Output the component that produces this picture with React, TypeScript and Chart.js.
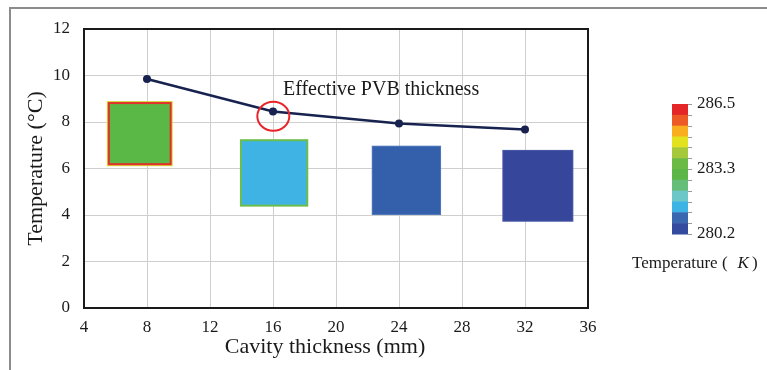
import React, { useEffect, useRef } from 'react';
import { Chart, registerables } from 'chart.js';

Chart.register(...registerables);

// ---- data ----
const cavityThickness = [8, 16, 24, 32];
const effectiveTemperature = [9.85, 8.45, 7.94, 7.68];

const xTickValues = [4, 8, 12, 16, 20, 24, 28, 32, 36];
const yTickValues = [0, 2, 4, 6, 8, 10, 12];

const xTitle = 'Cavity thickness (mm)';
const yTitle = 'Temperature (°C)';

// temperature-contour insets (data units: cavity thickness / temperature)
const insetLeft = [5.45, 13.9, 22.27, 30.56];
const insetRight = [9.63, 18.24, 26.67, 35.07];
const insetTop = [8.9, 7.26, 6.98, 6.8];
const insetBottom = [6.1, 4.36, 4.0, 3.71];
const insetFill = ['#5AB847', '#3FB4E4', '#345FAB', '#36479B'];
const insetEdge = ['#E2302A', '#6CBE4C', '#4F78BD', '#4A5AA8'];

const annotationText = 'Effective PVB thickness';
const annotationAt = [16.63, 9.38];
const highlightAt = [16.02, 8.25];

const colorbarColors = [
  '#E42628', '#EE5A26', '#F8AE1E', '#E2E21F', '#A5C93A', '#6BBA45',
  '#5DB648', '#64BE7A', '#6CC7C9', '#3DB3E5', '#3A68B0', '#334A9E',
];
const colorbarLabels = ['286.5', '283.3', '280.2'];
const colorbarTitle = 'Temperature (';
const colorbarUnit = 'K';

const FONT = "'Liberation Serif', 'Times New Roman', serif";

const decorPlugin = {
  id: 'decor',
  beforeDraw(chart: any) {
    const ctx = chart.ctx;
    ctx.save();
    ctx.fillStyle = '#ffffff';
    ctx.fillRect(0, 0, chart.width, chart.height);
    ctx.strokeStyle = '#8c8c8c';
    ctx.lineWidth = 2;
    ctx.beginPath();
    ctx.moveTo(10, chart.height);
    ctx.lineTo(10, 8);
    ctx.lineTo(chart.width, 8);
    ctx.stroke();
    ctx.restore();
  },
  beforeDatasetsDraw(chart: any) {
    const ctx = chart.ctx;
    const xs = chart.scales.x;
    const ys = chart.scales.y;
    const a = chart.chartArea;
    ctx.save();
    // plot box
    ctx.strokeStyle = '#1a1a1a';
    ctx.lineWidth = 2;
    ctx.strokeRect(a.left, a.top, a.right - a.left, a.bottom - a.top);
    // insets
    for (let i = 0; i < insetLeft.length; i++) {
      const x0 = xs.getPixelForValue(insetLeft[i]);
      const x1 = xs.getPixelForValue(insetRight[i]);
      const y0 = ys.getPixelForValue(insetTop[i]);
      const y1 = ys.getPixelForValue(insetBottom[i]);
      if (i === 0) {
        ctx.fillStyle = '#D9D63A';
        ctx.fillRect(x0, y0, x1 - x0, y1 - y0);
        ctx.fillStyle = insetEdge[i];
        ctx.fillRect(x0 + 1, y0 + 1, x1 - x0 - 2, y1 - y0 - 2);
        ctx.fillStyle = insetFill[i];
        ctx.fillRect(x0 + 3, y0 + 3, x1 - x0 - 6, y1 - y0 - 6);
      } else if (i === 1) {
        ctx.fillStyle = insetEdge[i];
        ctx.fillRect(x0, y0, x1 - x0, y1 - y0);
        ctx.fillStyle = insetFill[i];
        ctx.fillRect(x0 + 2, y0 + 2, x1 - x0 - 4, y1 - y0 - 4);
      } else {
        ctx.fillStyle = insetEdge[i];
        ctx.fillRect(x0, y0, x1 - x0, y1 - y0);
        ctx.fillStyle = insetFill[i];
        ctx.fillRect(x0 + 1, y0 + 1, x1 - x0 - 2, y1 - y0 - 2);
      }
    }
    ctx.restore();
  },
  afterDraw(chart: any) {
    const ctx = chart.ctx;
    const xs = chart.scales.x;
    const ys = chart.scales.y;
    ctx.save();
    // x-axis title (slightly left of centre, as in the original)
    ctx.fillStyle = '#1a1a1a';
    ctx.font = `22px ${FONT}`;
    ctx.textAlign = 'center';
    ctx.textBaseline = 'middle';
    ctx.fillText(xTitle, 325, 347);

    // highlight ring
    ctx.strokeStyle = '#E8232A';
    ctx.lineWidth = 2;
    ctx.beginPath();
    ctx.ellipse(xs.getPixelForValue(highlightAt[0]), ys.getPixelForValue(highlightAt[1]), 16, 14.5, 0, 0, Math.PI * 2);
    ctx.stroke();
    // annotation
    ctx.fillStyle = '#1a1a1a';
    ctx.font = `20px ${FONT}`;
    ctx.textAlign = 'left';
    ctx.textBaseline = 'middle';
    ctx.fillText(annotationText, xs.getPixelForValue(annotationAt[0]), ys.getPixelForValue(annotationAt[1]));

    // colorbar
    const bx = 672, by = 104, bw = 16, bh = 130;
    const step = bh / colorbarColors.length;
    colorbarColors.forEach((c, i) => {
      ctx.fillStyle = c;
      ctx.fillRect(bx, by + i * step, bw, step + 0.5);
    });
    ctx.strokeStyle = '#9a9a9a';
    ctx.lineWidth = 1;
    for (let i = 0; i <= colorbarColors.length; i++) {
      const yy = Math.round(by + i * step) + 0.5;
      ctx.beginPath();
      ctx.moveTo(bx + bw, yy);
      ctx.lineTo(bx + bw + 4, yy);
      ctx.stroke();
    }
    ctx.fillStyle = '#1a1a1a';
    ctx.font = `17px ${FONT}`;
    ctx.textAlign = 'left';
    ctx.textBaseline = 'middle';
    colorbarLabels.forEach((t, i) => {
      const yy = by + (bh * i) / (colorbarLabels.length - 1);
      ctx.fillText(t, bx + bw + 9, yy);
    });
    const tx = 632;
    const ty = 264;
    ctx.fillText(colorbarTitle, tx, ty);
    let w = ctx.measureText(colorbarTitle).width + 10;
    ctx.font = `italic 17px ${FONT}`;
    ctx.fillText(colorbarUnit, tx + w, ty);
    w += ctx.measureText(colorbarUnit).width + 3;
    ctx.font = `17px ${FONT}`;
    ctx.fillText(')', tx + w, ty);
    ctx.restore();
  },
};

export default function App() {
  const ref = useRef<HTMLCanvasElement | null>(null);
  useEffect(() => {
    if (!ref.current) return;
    const chart = new Chart(ref.current, {
      type: 'line',
      data: {
        datasets: [
          {
            data: cavityThickness.map((x, i) => ({ x, y: effectiveTemperature[i] })),
            borderColor: '#17224F',
            backgroundColor: '#17224F',
            borderWidth: 2.5,
            pointRadius: 4,
            pointBackgroundColor: '#17224F',
            pointBorderWidth: 0,
            tension: 0,
          },
        ],
      },
      options: {
        responsive: false,
        animation: false,
        layout: { padding: { left: 10, top: 29, right: 179, bottom: 0 } },
        plugins: { legend: { display: false }, tooltip: { enabled: false } },
        scales: {
          x: {
            type: 'linear',
            min: 4,
            max: 36,
            afterBuildTicks: (s: any) => { s.ticks = xTickValues.map((v) => ({ value: v })); },
            afterFit: (s: any) => { s.height = 62; },
            grid: { color: '#cfcfcf', lineWidth: 1, drawTicks: false },
            border: { display: false },
            ticks: { color: '#1a1a1a', font: { family: FONT, size: 17 }, padding: 9, maxRotation: 0 },
            title: { display: false },
          },
          y: {
            type: 'linear',
            min: 0,
            max: 12,
            afterBuildTicks: (s: any) => { s.ticks = yTickValues.map((v) => ({ value: v })); },
            afterFit: (s: any) => { s.width = 74; },
            grid: { color: '#cfcfcf', lineWidth: 1, drawTicks: false },
            border: { display: false },
            ticks: { color: '#1a1a1a', font: { family: FONT, size: 17 }, padding: 14 },
            title: {
              display: true,
              text: yTitle,
              color: '#1a1a1a',
              font: { family: FONT, size: 22 },
              padding: { top: 13, bottom: 0 },
            },
          },
        },
      },
      plugins: [decorPlugin],
    });
    return () => chart.destroy();
  }, []);
  return (
    <div style={{ position: 'absolute', left: 0, top: 0, width: 767, height: 370 }}>
      <canvas ref={ref} width={767} height={370} style={{ display: 'block' }} />
    </div>
  );
}
